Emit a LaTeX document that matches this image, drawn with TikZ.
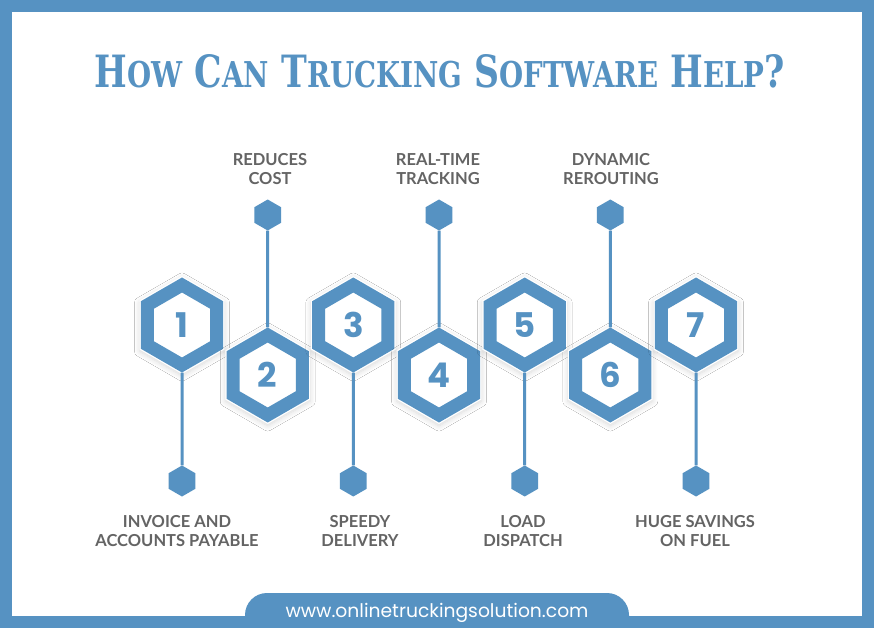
\documentclass[tikz,border=0pt]{standalone}
\usepackage{graphicx}
\usepackage{fontspec}
\setmainfont{Lato}
\newfontfamily\titlefont{DejaVu Serif}
\newfontfamily\numfont{Poppins}
\usetikzlibrary{shapes.geometric,shadows.blur}
\definecolor{tblue}{RGB}{86,146,194}
\definecolor{tgray}{RGB}{100,100,100}
\newcommand{\tsc}[1]{{\fontsize{36}{36}\selectfont #1}}

\begin{document}
\begin{tikzpicture}[x=1pt,y=-1pt,
  halo/.style={regular polygon, regular polygon sides=6, shape border rotate=30,
    minimum size=98pt, inner sep=0pt, fill=white,
    blur shadow={shadow xshift=0pt, shadow yshift=-2pt, shadow blur radius=5pt,
      shadow blur steps=10, shadow opacity=15}},
  bighex/.style={regular polygon, regular polygon sides=6, shape border rotate=30,
    minimum size=80pt, inner sep=0pt, draw=tblue, line width=13pt, fill=white,
    text=tblue, font=\numfont\bfseries\fontsize{34}{34}\selectfont},
  dothex/.style={regular polygon, regular polygon sides=6, shape border rotate=30,
    minimum size=31pt, inner sep=0pt, fill=tblue},
  link/.style={tblue, line width=3pt},
  caption/.style={text=tgray, align=center, font=\bfseries\fontsize{16.5}{19}\selectfont}]
\useasboundingbox (0,0) rectangle (874,628);

% frame and tab
\fill[tblue] (0,0) rectangle (874,628);
\fill[white] (12,12) rectangle (862,616);
\fill[tblue] (245,628) -- (245,615) [rounded corners=22pt] -- (245,593) -- (629,593) [sharp corners] -- (629,615) -- (629,628) -- cycle;
\node[text=white, anchor=base] (url) at (437,617)
  {\resizebox{303pt}{!}{\numfont\fontsize{20}{20}\selectfont www.onlinetruckingsolution.com}};

% title
\node[text=tblue] (title) at (440,71.5)
  {\resizebox{690pt}{33pt}{\titlefont\bfseries\fontsize{45}{45}\selectfont
   H\tsc{OW} C\tsc{AN} T\tsc{RUCKING} S\tsc{OFTWARE} H\tsc{ELP}?}};

% numbered hexagons
\foreach \i/\x/\y in {1/182/325, 2/267.7/375, 3/353.3/325, 4/439/375,
                      5/524.7/325, 6/610.3/375, 7/696/325} {
  \node[halo] at (\x,\y) {};
  \node[bighex] (h\i) at (\x,\y) {\i};
}

% small hexagons and links
\foreach \i/\x in {1/182, 3/353.3, 5/524.7, 7/696} {
  \node[dothex] (s\i) at (\x,481) {};
  \draw[link] (h\i.270) -- (s\i);
}
\foreach \i/\x in {2/267.7, 4/439, 6/610.3} {
  \node[dothex] (s\i) at (\x,215) {};
  \draw[link] (h\i.90) -- (s\i);
}

% captions
\node[caption] (l2) at (270,169) {REDUCES\\COST};
\node[caption] (l4) at (438,169) {REAL-TIME\\TRACKING};
\node[caption] (l6) at (611,169) {DYNAMIC\\REROUTING};
\node[caption] (l1) at (177,531) {INVOICE AND\\ACCOUNTS PAYABLE};
\node[caption] (l3) at (360,531) {SPEEDY\\DELIVERY};
\node[caption] (l5) at (523,531) {LOAD\\DISPATCH};
\node[caption] (l7) at (695,531) {HUGE SAVINGS\\ON FUEL};
\end{tikzpicture}
\end{document}
